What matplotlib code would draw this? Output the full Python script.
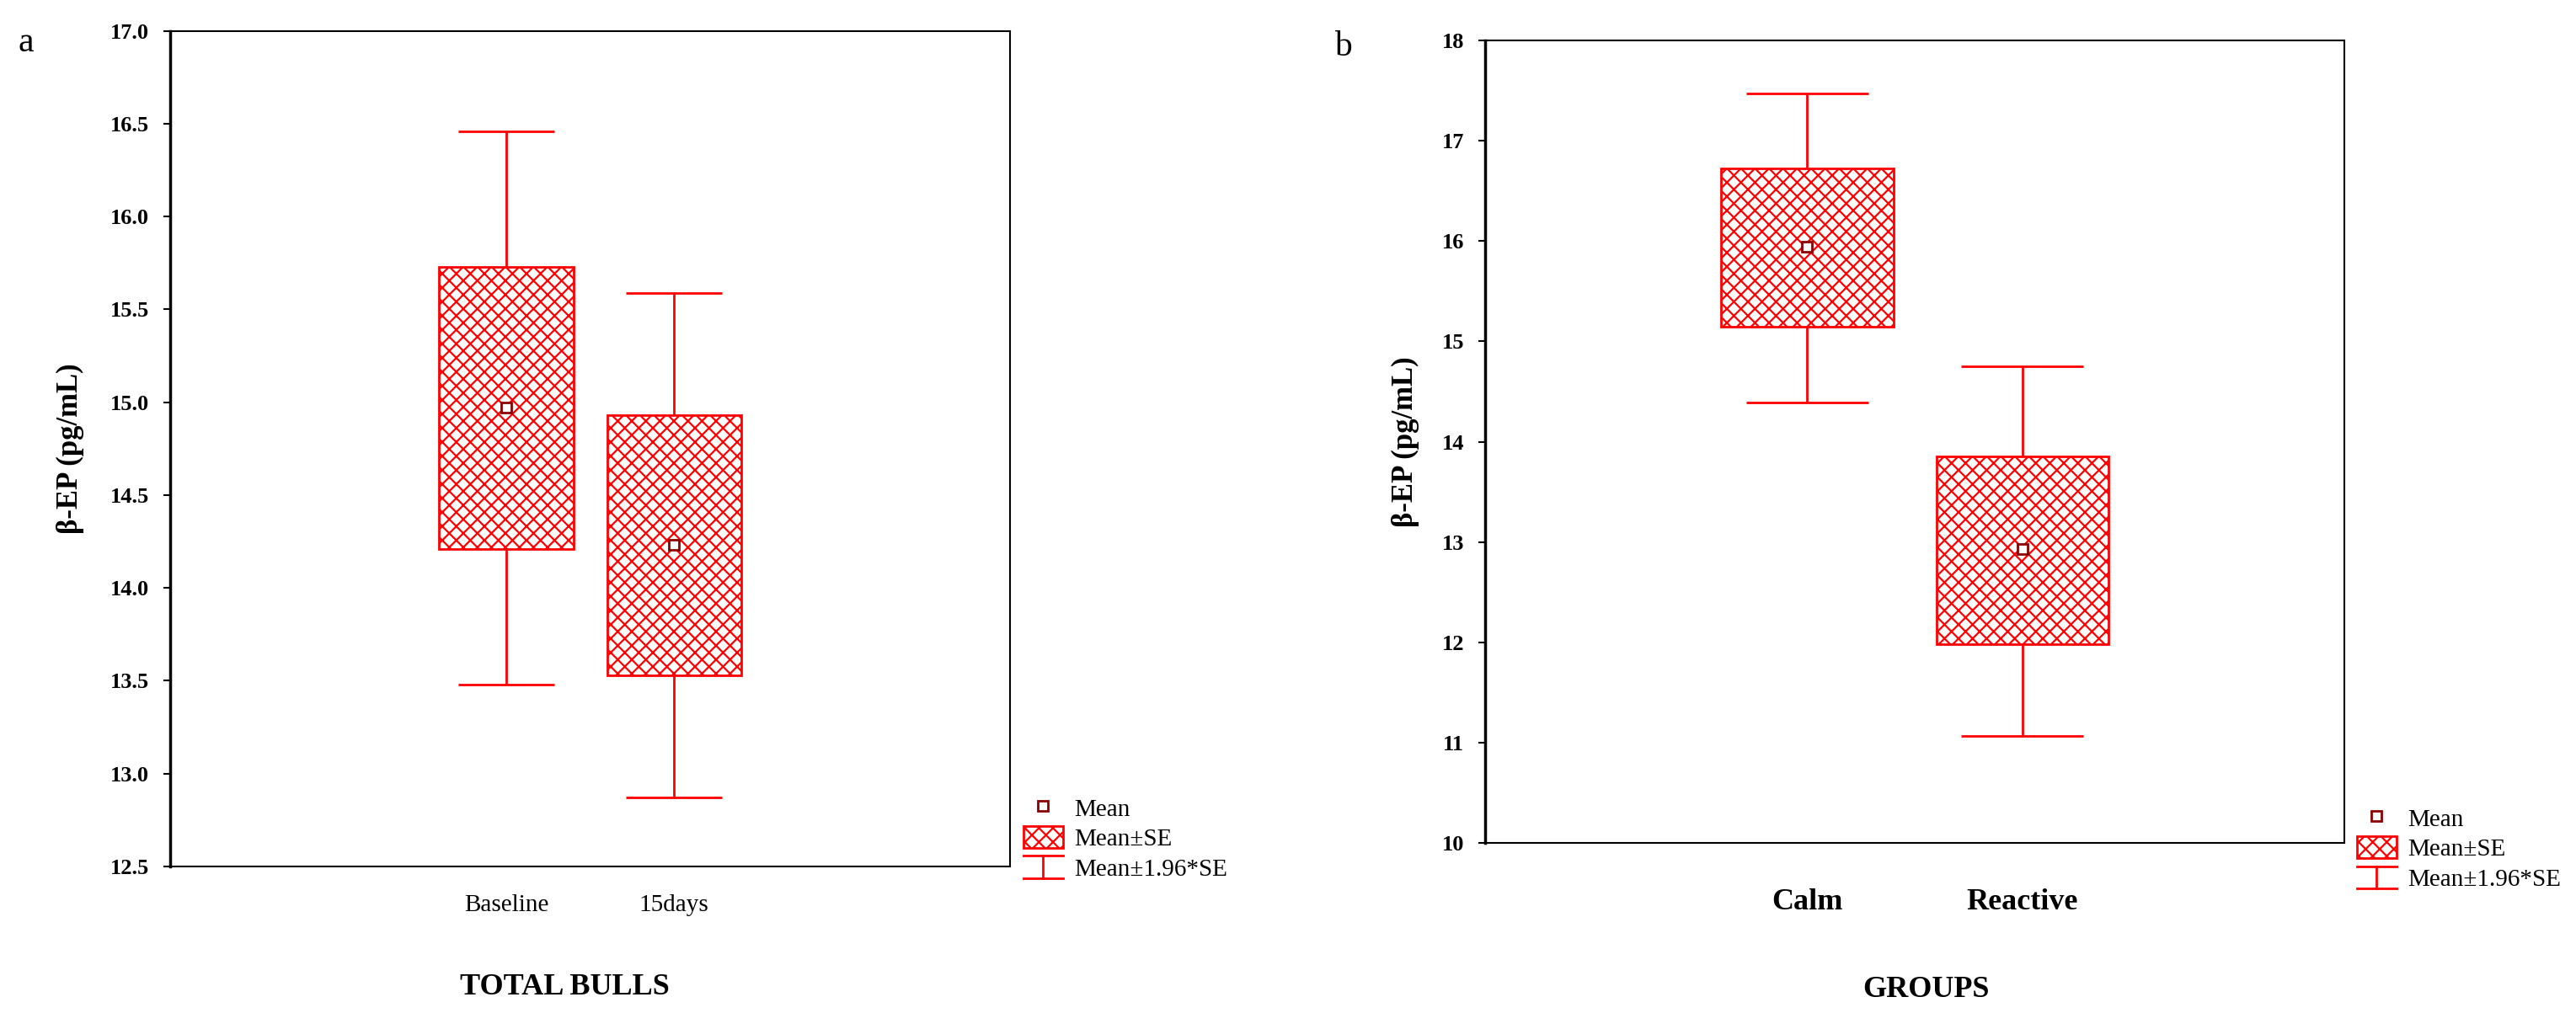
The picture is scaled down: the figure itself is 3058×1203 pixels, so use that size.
import numpy as np
import matplotlib
matplotlib.use("Agg")
import matplotlib.pyplot as plt
from matplotlib.lines import Line2D
from matplotlib.patches import Patch
from matplotlib.legend_handler import HandlerBase

plt.rcParams['font.family'] = ['Liberation Serif', 'DejaVu Serif']
plt.rcParams['hatch.color'] = 'red'
plt.rcParams['hatch.linewidth'] = 1.6

# panel a: total bulls
groups_a = ['Baseline', '15days']
mean_a = [14.97, 14.23]
se_lo_a = [14.21, 13.53]
se_hi_a = [15.73, 14.93]
ci_lo_a = [13.48, 12.87]
ci_hi_a = [16.46, 15.59]

# panel b: calm vs reactive
groups_b = ['Calm', 'Reactive']
mean_b = [15.94, 12.93]
se_lo_b = [15.15, 11.98]
se_hi_b = [16.72, 13.85]
ci_lo_b = [14.39, 11.07]
ci_hi_b = [17.47, 14.75]

RED = '#ff0000'
DARK = '#8b0000'


class CIHandle:
    pass


class HandlerCI(HandlerBase):
    # whisker symbol: cap, stem, cap
    def create_artists(self, legend, orig_handle, xdescent, ydescent,
                       width, height, fontsize, trans):
        x0, x1 = -xdescent, -xdescent + width
        y0, y1 = -ydescent, -ydescent + height
        xm = (x0 + x1) / 2
        lines = [Line2D([x0, x1], [y1, y1]), Line2D([xm, xm], [y0, y1]),
                 Line2D([x0, x1], [y0, y0])]
        for l in lines:
            l.set_color(RED)
            l.set_linewidth(2)
            l.set_transform(trans)
        return lines


def draw_panel(ax, groups, mean, se_lo, se_hi, ci_lo, ci_hi):
    x = np.arange(1, len(groups) + 1)
    se_lo, se_hi = np.array(se_lo), np.array(se_hi)
    ax.bar(x, se_hi - se_lo, bottom=se_lo, width=0.8, color='white',
           edgecolor=RED, hatch='xx', linewidth=2, zorder=2)
    ax.vlines(x, se_hi, ci_hi, color=RED, linewidth=2)
    ax.vlines(x, ci_lo, se_lo, color=RED, linewidth=2)
    ax.hlines(ci_hi, x - 0.285, x + 0.285, color=RED, linewidth=2)
    ax.hlines(ci_lo, x - 0.285, x + 0.285, color=RED, linewidth=2)
    ax.plot(x, mean, 's', markersize=9, markerfacecolor='white',
            markeredgecolor=DARK, markeredgewidth=2, zorder=3)
    ax.set_xticks(x)
    ax.set_xticklabels(groups)
    ax.tick_params(axis='x', length=0)
    ax.tick_params(axis='y', direction='out', length=6, width=1.5, pad=12)
    for s in ax.spines.values():
        s.set_linewidth(1.5)
    ax.spines['left'].set_linewidth(2.5)


fig = plt.figure(figsize=(30.58, 12.03), dpi=100)
ax1 = fig.add_axes([0.0661, 0.1446, 0.3260, 0.8250])
ax2 = fig.add_axes([0.5765, 0.1679, 0.3336, 0.7922])

draw_panel(ax1, groups_a, mean_a, se_lo_a, se_hi_a, ci_lo_a, ci_hi_a)
ax1.set_xlim(-1, 4)
ax1.set_ylim(12.5, 17.0)
yt = np.arange(12.5, 17.01, 0.5)
ax1.set_yticks(yt)
ax1.set_yticklabels(['%.1f' % v for v in yt], fontsize=19, fontweight='bold')
ax1.tick_params(axis='x', labelsize=21, pad=24)
ax1.set_ylabel('β-EP (pg/mL)', fontsize=25, fontweight='bold')
ax1.yaxis.set_label_coords(-0.102, 0.5)
ax1.text(0.47, -0.145, 'TOTAL BULLS', transform=ax1.transAxes, ha='center',
         va='center', fontsize=26, fontweight='bold')

draw_panel(ax2, groups_b, mean_b, se_lo_b, se_hi_b, ci_lo_b, ci_hi_b)
ax2.set_xlim(-0.5, 3.5)
ax2.set_ylim(10, 18)
ax2.set_yticks(np.arange(10, 19, 1))
ax2.set_yticklabels([str(v) for v in range(10, 19)], fontsize=19,
                    fontweight='bold')
ax2.tick_params(axis='x', labelsize=26, pad=39)
for t in ax2.get_xticklabels():
    t.set_fontweight('bold')
ax2.set_ylabel('β-EP (pg/mL)', fontsize=25, fontweight='bold')
ax2.yaxis.set_label_coords(-0.0765, 0.5)
ax2.text(0.513, -0.183, 'GROUPS', transform=ax2.transAxes, ha='center',
         va='center', fontsize=26, fontweight='bold')

fig.text(0.0101, 0.958, 'a', fontsize=30, va='center', ha='center')
fig.text(0.5213, 0.954, 'b', fontsize=30, va='center', ha='center')

# legends
handles = [Line2D([], [], marker='s', linestyle='none', markersize=9,
                  markerfacecolor='white', markeredgecolor=DARK,
                  markeredgewidth=2),
           Patch(facecolor='white', edgecolor=RED, hatch='xx', linewidth=2),
           CIHandle()]
labels = ['Mean', 'Mean±SE', 'Mean±1.96*SE']

for anchor in [(0.3973, 0.214), (0.915, 0.204)]:
    fig.legend(handles, labels, loc='upper left', bbox_to_anchor=anchor,
               frameon=False, fontsize=21, borderpad=0, borderaxespad=0,
               handlelength=1.6, handleheight=1.0, handletextpad=0.45,
               labelspacing=0.22, handler_map={CIHandle: HandlerCI()})

fig.savefig('out.png', dpi=100, facecolor='white')
